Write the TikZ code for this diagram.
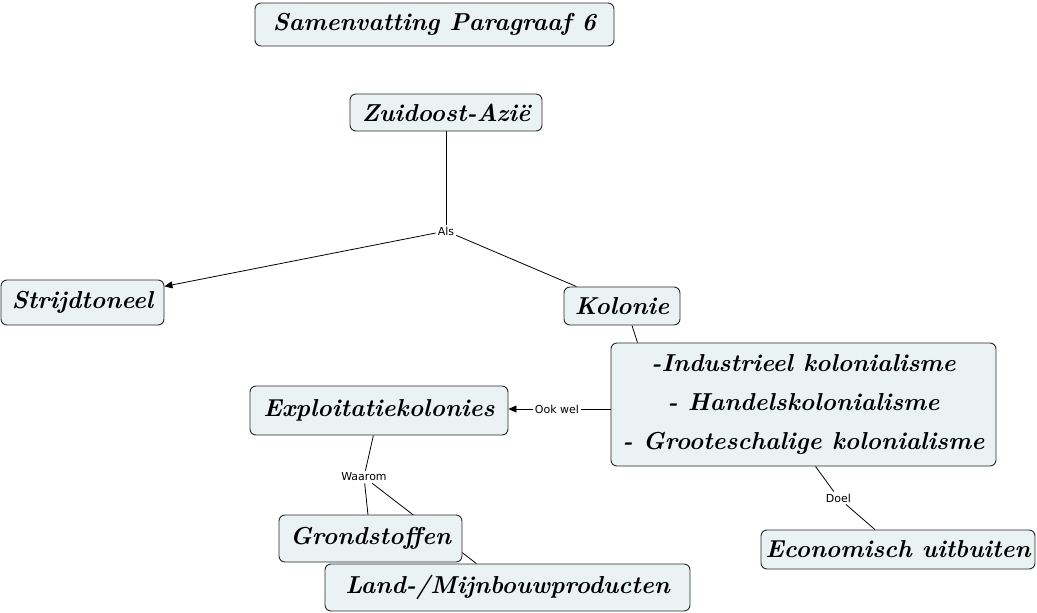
\documentclass[tikz,border=0pt]{standalone}
\usepackage{fontspec}
\newfontfamily\lblfont{DejaVu Sans}
\usetikzlibrary{arrows.meta}
\definecolor{boxfill}{RGB}{234,242,244}
\definecolor{boxline}{RGB}{40,40,40}
\pgfdeclarelayer{bg}
\pgfsetlayers{bg,main}
\tikzset{
  concept/.style={draw=boxline, line width=0.9pt, fill=boxfill, rounded corners=6pt,
    inner sep=0pt, align=center, font=\fontsize{24.5}{39}\selectfont\bfseries\itshape},
  lbl/.style={inner sep=2pt, font=\lblfont\fontsize{11}{13}\selectfont},
  link/.style={draw=black, line width=0.8pt},
  arr/.style={link, -{Triangle[length=8pt,width=7pt]}}
}
\begin{document}
\begin{tikzpicture}[x=1pt,y=-1pt]
\useasboundingbox (0,0) rectangle (1037,613);
\node[concept, minimum width=359pt, minimum height=43pt] (title) at (434.5,24.5) {Samenvatting Paragraaf 6};
\node[concept, minimum width=192pt, minimum height=37pt] (zuid) at (446,112.5) {Zuidoost-Azië};
\node[concept, minimum width=163pt, minimum height=45pt] (strijd) at (82.5,302.5) {Strijdtoneel};
\node[concept, minimum width=116pt, minimum height=38pt] (kol) at (622,306) {Kolonie};
\node[concept, minimum width=385pt, minimum height=123pt] (big) at (803.5,404.5) {-Industrieel kolonialisme\\-~Handelskolonialisme\\-~Grooteschalige kolonialisme};
\node[concept, minimum width=258pt, minimum height=49pt] (exp) at (379,410.5) {Exploitatiekolonies};
\node[concept, minimum width=365pt, minimum height=47pt] (land) at (507.5,587.5) {Land-/Mijnbouwproducten};
\node[concept, minimum width=183pt, minimum height=47pt] (grond) at (370.5,538.5) {Grondstoffen};
\node[concept, minimum width=274pt, minimum height=39pt] (econ) at (898,549.5) {Economisch uitbuiten};

\node[lbl] (als) at (446,231) {Als};
\node[lbl] (ook) at (557,409) {Ook wel};
\node[lbl] (waarom) at (364,477) {Waarom};
\node[lbl] (doel) at (838.5,498) {Doel};

\begin{pgfonlayer}{bg}
\draw[link] (zuid) -- (als);
\draw[arr] (als) -- (strijd);
\draw[link] (als) -- (kol);
\draw[link] ([xshift=10pt]kol.south) -- ([xshift=-166pt]big.north);
\draw[link] (big.west |- ook) -- (ook);
\draw[arr] (ook) -- (exp.east |- ook);
\draw[link] (exp) -- (waarom);
\draw[link] (waarom) -- (grond);
\draw[link] (waarom) -- (land);
\draw[link] ([xshift=12pt]big.south) -- (doel);
\draw[link] (doel) -- (econ);
\end{pgfonlayer}
\end{tikzpicture}
\end{document}
